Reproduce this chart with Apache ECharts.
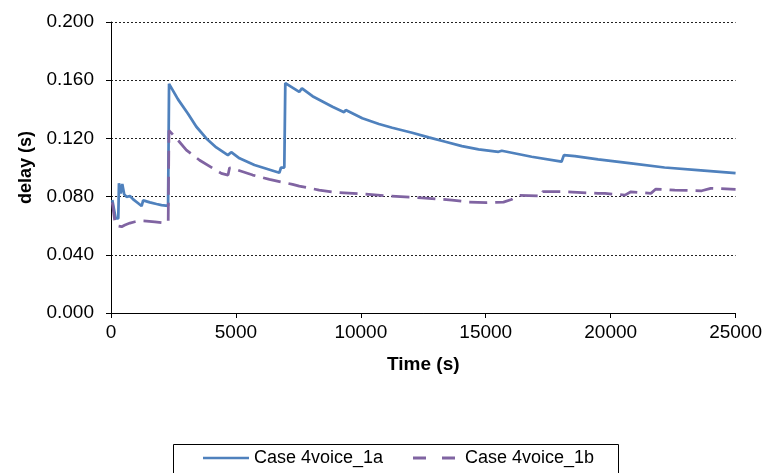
<!DOCTYPE html>
<html>
<head>
<meta charset="utf-8">
<script src="https://cdn.jsdelivr.net/npm/echarts@6/dist/echarts.min.js"></script>
<style>
html,body{margin:0;padding:0;background:#fff;}
#chart{width:765px;height:473px;}
</style>
</head>
<body>
<div id="chart"></div>
<script>
// Series A: Case 4voice_1a (time s, delay s)
var timeA = [52, 187, 291, 319, 387, 451, 530, 626, 758, 889, 1088, 1224, 1288, 1555, 1822, 2021, 2285, 2324,
  2683, 3082, 3417, 3816, 4214, 4677, 4812, 5143, 5741, 6738, 6806, 6937, 6977, 7029, 7535, 7643, 8066,
  8863, 9330, 9397, 10059, 10725, 10793, 11255, 12053, 12718, 13384, 14046, 14712, 15509, 15641, 16837,
  18033, 18129, 18567, 19496, 20824, 22156, 23484, 25000];
var delayA = [0.0776, 0.0650, 0.0650, 0.0892, 0.0822, 0.0886, 0.0815, 0.0798, 0.0804, 0.0781, 0.0754, 0.0735, 0.0774, 0.0760, 0.0749, 0.0742, 0.0737, 0.1575,
  0.1468, 0.1370, 0.1280, 0.1200, 0.1138, 0.1085, 0.1105, 0.1063, 0.1017, 0.0964, 0.1000, 0.1000, 0.1580, 0.1590, 0.1520, 0.1544, 0.1490,
  0.1418, 0.1380, 0.1395, 0.1338, 0.1299, 0.1308, 0.1273, 0.1239, 0.1207, 0.1177, 0.1147, 0.1125, 0.1108, 0.1115, 0.1074,
  0.1040, 0.1085, 0.1078, 0.1056, 0.1028, 0.1000, 0.0982, 0.0962];
// Series B: Case 4voice_1b
var timeB = [52, 160, 219, 291, 427, 558, 758, 957, 1156, 1423, 1754, 2085, 2290, 2320,
  2620, 3018, 3548, 4079, 4414, 4685, 4745, 5075, 5673, 6339, 7268, 7535, 8333, 8999, 10195, 11124,
  12451, 13648, 14313, 15031, 15709, 16028, 16307, 17224, 17276, 18169, 19496, 19775, 20572, 20811,
  21609, 21808, 22566, 23643, 24002, 25000];
var delayB = [0.0760, 0.0620, 0.0600, 0.0593, 0.0593, 0.0605, 0.0618, 0.0627, 0.0634, 0.0632, 0.0627, 0.0620, 0.0627, 0.1255,
  0.1200, 0.1120, 0.1050, 0.0994, 0.0960, 0.0948, 0.0998, 0.0982, 0.0948, 0.0918, 0.0884, 0.0872, 0.0845, 0.0829, 0.0817, 0.0804,
  0.0792, 0.0776, 0.0763, 0.0758, 0.0762, 0.0780, 0.0808, 0.0804, 0.0835, 0.0833, 0.0822, 0.0822, 0.0810, 0.0833,
  0.0822, 0.0852, 0.0845, 0.0840, 0.0857, 0.0850];
var seriesNames = ['Case 4voice_1a', 'Case 4voice_1b'];
var seriesColors = ['#4F81BD', '#8064A2'];
var yTicks = [0, 0.04, 0.08, 0.12, 0.16, 0.2];
var xTicks = [0, 5000, 10000, 15000, 20000, 25000];

function zip(t, v) { return t.map(function (x, i) { return [x, v[i]]; }); }

var FONT = '"Liberation Sans", Arial, sans-serif';
var chart = echarts.init(document.getElementById('chart'));
var legendY = 458;
chart.setOption({
  animation: false,
  backgroundColor: '#fff',
  grid: { left: 111, right: 27, top: 22, bottom: 160 },
  xAxis: {
    type: 'value', min: xTicks[0], max: xTicks[xTicks.length - 1], interval: 5000,
    name: 'Time (s)', nameLocation: 'middle', nameGap: 42,
    nameTextStyle: { fontFamily: FONT, fontSize: 19, fontWeight: 'bold', color: '#000' },
    axisLine: { show: true, lineStyle: { color: '#000', width: 1 } },
    axisTick: { show: true, length: 5, lineStyle: { color: '#000' } },
    axisLabel: { fontFamily: FONT, fontSize: 19, color: '#000', margin: 10,
      formatter: function (v) { return String(v); } },
    splitLine: { show: false }
  },
  yAxis: {
    type: 'value', min: yTicks[0], max: yTicks[yTicks.length - 1], interval: 0.04,
    name: 'delay (s)', nameLocation: 'middle', nameGap: 76, nameRotate: 90,
    nameTextStyle: { fontFamily: FONT, fontSize: 18, fontWeight: 'bold', color: '#000' },
    axisLine: { show: true, lineStyle: { color: '#000', width: 1 } },
    axisTick: { show: true, length: 5, lineStyle: { color: '#000' } },
    axisLabel: { fontFamily: FONT, fontSize: 19, color: '#000', margin: 17,
      formatter: function (v) { return v.toFixed(3); } },
    splitLine: { show: true, lineStyle: { color: '#222', width: 1, type: [2, 2] } }
  },
  legend: { show: false },
  graphic: [
    { type: 'rect', left: 171, top: 442, silent: true,
      shape: { x: 0, y: 0, width: 445, height: 40 },
      style: { fill: 'none', stroke: '#000', lineWidth: 1 } },
    { type: 'line', silent: true, shape: { x1: 203, y1: legendY, x2: 249, y2: legendY },
      style: { stroke: seriesColors[0], lineWidth: 2.5 } },
    { type: 'text', silent: true, x: 254, y: legendY,
      style: { text: seriesNames[0], font: '18px ' + FONT, fill: '#000', verticalAlign: 'middle', textVerticalAlign: 'middle' } },
    { type: 'line', silent: true, shape: { x1: 413, y1: legendY, x2: 458, y2: legendY },
      style: { stroke: seriesColors[1], lineWidth: 3, lineDash: [13, 16] } },
    { type: 'text', silent: true, x: 465, y: legendY,
      style: { text: seriesNames[1], font: '18px ' + FONT, fill: '#000', verticalAlign: 'middle', textVerticalAlign: 'middle' } }
  ],
  series: [
    {
      name: seriesNames[0], type: 'line', data: zip(timeA, delayA),
      showSymbol: false, symbol: 'none',
      lineStyle: { color: seriesColors[0], width: 2.75 }, itemStyle: { color: seriesColors[0] }
    },
    {
      name: seriesNames[1], type: 'line', data: zip(timeB, delayB),
      showSymbol: false, symbol: 'none',
      lineStyle: { color: seriesColors[1], width: 2.75, type: [18, 8] }, itemStyle: { color: seriesColors[1] }
    }
  ]
});
</script>
</body>
</html>
